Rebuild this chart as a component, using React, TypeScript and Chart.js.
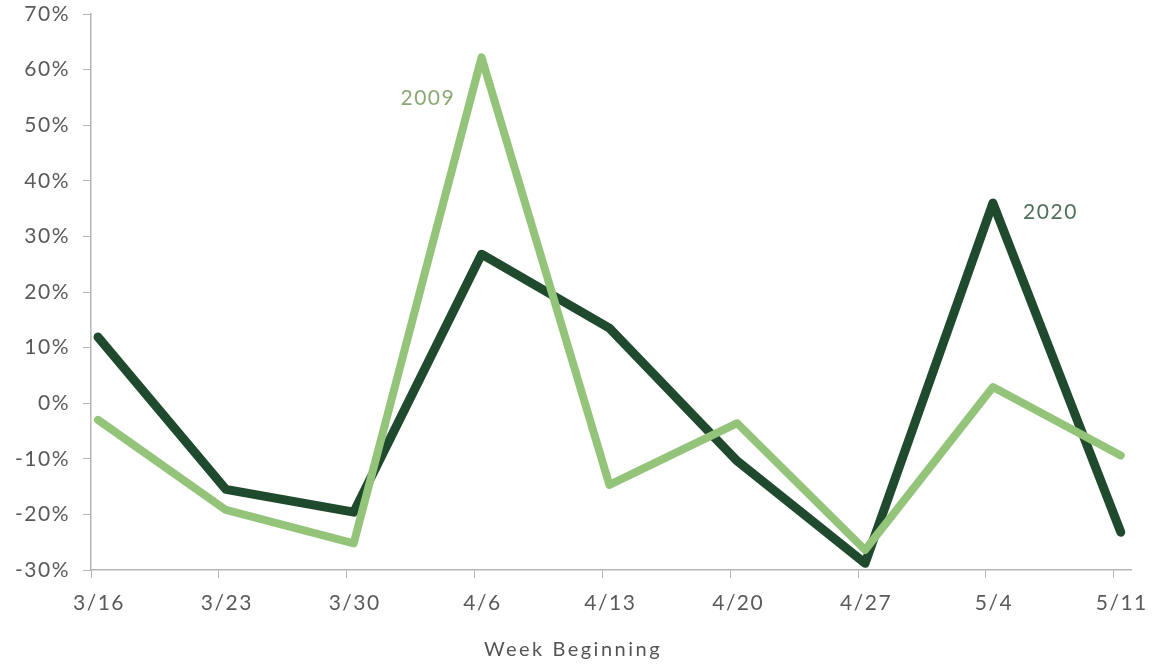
import React, { useEffect, useRef } from "react";
import { Chart, registerables } from "chart.js";

Chart.register(...registerables);

const weeks = ["3/16", "3/23", "3/30", "4/6", "4/13", "4/20", "4/27", "5/4", "5/11"];
const series2009 = [-3, -19.2, -25.2, 62.2, -14.7, -3.6, -26.4, 2.9, -9.4];
const series2020 = [11.9, -15.5, -19.6, 26.8, 13.5, -10.4, -28.8, 36, -23.2];
const yTicks = [-30, -20, -10, 0, 10, 20, 30, 40, 50, 60, 70];
const labels = [
  { text: "2009", x: 2.58, y: 54.9, color: "#8aa974" },
  { text: "2020", x: 7.45, y: 34.4, color: "#50705c" },
];
const axisTitle = "Week Beginning";

const FONT = "Lato, 'Open Sans', sans-serif";
const TICK_SHIFT = 0.055;

export default function App() {
  const ref = useRef<HTMLCanvasElement | null>(null);
  useEffect(() => {
    if (!ref.current) return;
    const annot = {
      id: "annot",
      beforeDraw(chart: any) {
        (chart.ctx as any).letterSpacing = "1.5px";
      },
      afterDraw(chart: any) {
        const { ctx, scales } = chart;
        ctx.save();
        ctx.font = "21px " + FONT;
        ctx.textAlign = "center";
        ctx.textBaseline = "middle";
        (ctx as any).letterSpacing = "1.5px";
        for (const l of labels) {
          ctx.fillStyle = l.color;
          ctx.fillText(l.text, scales.x.getPixelForValue(l.x), scales.y.getPixelForValue(l.y));
        }
        (ctx as any).letterSpacing = "2.5px";
        ctx.font = "20px " + FONT;
        ctx.fillStyle = "#555";
        ctx.fillText(axisTitle, 573, 650);
        ctx.restore();
      },
    };
    const common = {
      pointRadius: 0,
      tension: 0,
      borderCapStyle: "round",
      borderJoinStyle: "round",
      clip: false,
    };
    const chart = new Chart(ref.current, {
      type: "line",
      data: {
        datasets: [
          {
            label: "2009",
            data: series2009.map((v, i) => ({ x: i, y: v })),
            borderColor: "#93c47a",
            borderWidth: 8,
            ...common,
          },
          {
            label: "2020",
            data: series2020.map((v, i) => ({ x: i, y: v })),
            borderColor: "#1f4a2e",
            borderWidth: 9,
            ...common,
          },
        ],
      },
      options: {
        animation: false,
        responsive: true,
        maintainAspectRatio: false,
        layout: { padding: { top: 14, right: 22, left: 0, bottom: 0 } },
        plugins: { legend: { display: false }, tooltip: { enabled: false } },
        scales: {
          x: {
            type: "linear",
            min: -TICK_SHIFT,
            max: 8.08,
            afterFit: (s: any) => {
              s.height = 95;
              s.paddingLeft = 0;
              s.paddingRight = 0;
            },
            afterBuildTicks: (s: any) => { s.ticks = weeks.map((_, i) => ({ value: i - TICK_SHIFT })); },
            ticks: {
              callback: (v: any) => weeks[Math.round(v + TICK_SHIFT)] ?? "",
              color: "#5a5a5a",
              font: { size: 21, family: FONT },
              padding: 13,
              labelOffset: 8,
              maxRotation: 0,
              autoSkip: false,
            },
            grid: { drawOnChartArea: false, tickLength: 8, color: "#b5b5b5" },
            border: { color: "#b5b5b5", width: 1.5 },
          },
          y: {
            min: -30,
            max: 70,
            afterFit: (s: any) => {
              s.width = 91;
              s.paddingTop = 0;
              s.paddingBottom = 0;
            },
            afterBuildTicks: (s: any) => { s.ticks = yTicks.map((v) => ({ value: v })); },
            ticks: {
              callback: (v: any) => v + "%",
              color: "#5a5a5a",
              font: { size: 21, family: FONT },
              padding: 13,
            },
            grid: { drawOnChartArea: false, tickLength: 8, color: "#b5b5b5" },
            border: { color: "#b5b5b5", width: 1.5 },
          },
        },
      },
      plugins: [annot],
    } as any);
    return () => chart.destroy();
  }, []);
  return (
    <div style={{ position: "fixed", left: 0, top: 0, width: 1153, height: 665, background: "#fff" }}>
      <canvas ref={ref} />
    </div>
  );
}
